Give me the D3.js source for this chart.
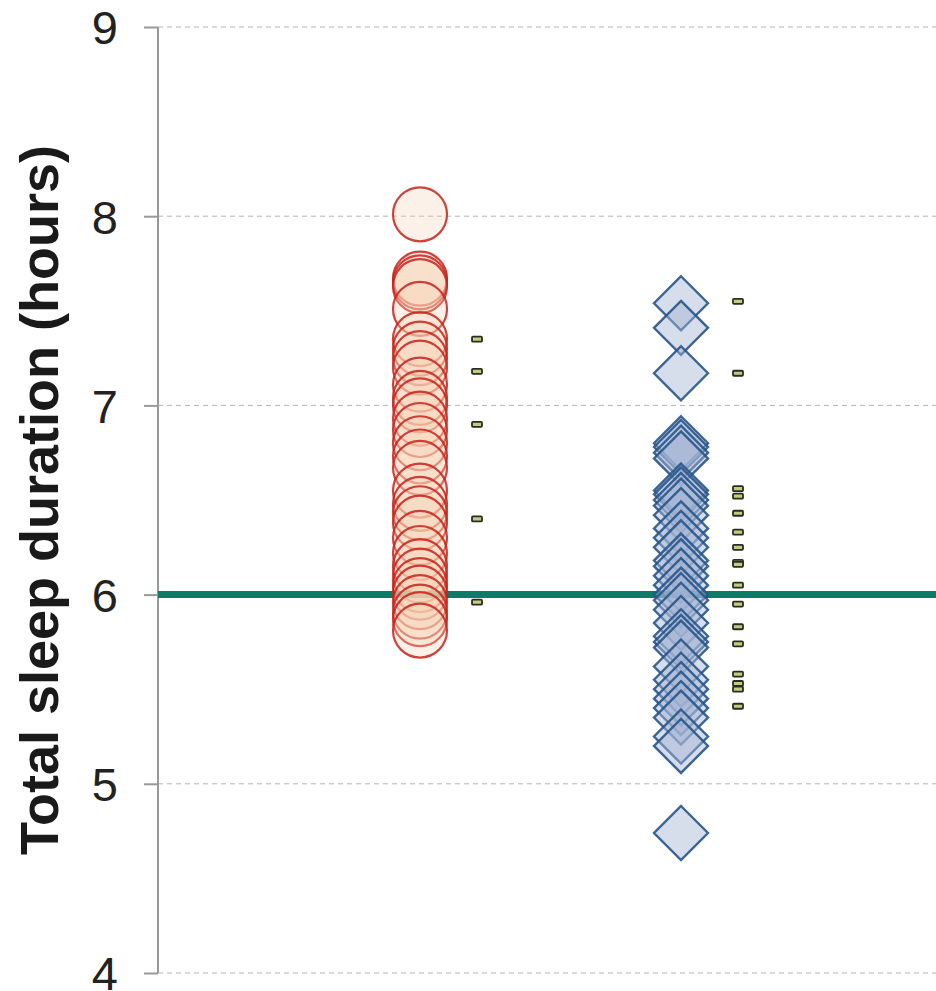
<!DOCTYPE html>
<html>
<head>
<meta charset="utf-8">
<script src="https://cdn.jsdelivr.net/npm/d3@7"></script>
<style>
  body { margin: 0; background: #fff; }
  svg { display: block; font-family: "Liberation Sans", Arial, sans-serif; }
</style>
</head>
<body>
<div id="chart"></div>
<script>
// y ticks
const yTicks = [4, 5, 6, 7, 8, 9];
const threshold = 6;

// group 1 (circles) – individual sleep durations
const groupA = [8.01, 7.67, 7.65, 7.63, 7.51, 7.35, 7.30, 7.25, 7.20, 7.11, 7.04, 7.00,
  6.93, 6.87, 6.80, 6.73, 6.67, 6.55, 6.48, 6.43, 6.38, 6.30, 6.22, 6.15, 6.10,
  6.05, 6.01, 5.96, 5.91, 5.87, 5.81];
// small marks next to group 1
const marksA = [7.35, 7.18, 6.90, 6.40, 5.96];

// group 2 (diamonds)
const groupB = [7.54, 7.41, 7.17, 6.80, 6.78, 6.75, 6.72, 6.55, 6.53, 6.50, 6.47, 6.42,
  6.35, 6.30, 6.25, 6.18, 6.15, 6.10, 6.05, 6.00, 5.97, 5.92, 5.85, 5.78, 5.75,
  5.72, 5.62, 5.55, 5.50, 5.45, 5.40, 5.35, 5.25, 5.20, 4.74];
const marksB = [7.55, 7.17, 6.56, 6.52, 6.43, 6.33, 6.25, 6.17, 6.16, 6.05, 5.95, 5.83,
  5.74, 5.58, 5.53, 5.50, 5.41];

const width = 936, height = 991;
const margin = { top: 27, right: 0, bottom: 18, left: 158 };

const svg = d3.select("#chart").append("svg")
  .attr("width", width)
  .attr("height", height);

const y = d3.scaleLinear()
  .domain([4, 9])
  .range([height - margin.bottom, margin.top]);

// x positions of the two columns and their side marks
const xPos = { A: 420, markA: 477, B: 681, markB: 738 };

// gridlines
svg.append("g")
  .selectAll("line")
  .data(yTicks)
  .join("line")
    .attr("x1", margin.left)
    .attr("x2", width)
    .attr("y1", d => y(d))
    .attr("y2", d => y(d))
    .attr("stroke", "#b5b5b5")
    .attr("stroke-width", 1)
    .attr("stroke-dasharray", "5,4");

// axis
const axis = svg.append("g")
  .attr("transform", `translate(${margin.left},0)`)
  .call(d3.axisLeft(y).tickValues(yTicks).tickSize(14).tickPadding(26).tickFormat(d3.format("d")));
axis.select(".domain")
  .attr("stroke", "#999")
  .attr("stroke-width", 2)
  .attr("d", `M0,${y(4)}V${y(9)}`);
axis.selectAll(".tick line").attr("stroke", "#999").attr("stroke-width", 2);
axis.selectAll(".tick text")
  .attr("font-size", 47)
  .attr("fill", "#222")
  .attr("font-family", "'Liberation Sans', Arial, sans-serif")
  .attr("dy", "0.36em");

// y label
svg.append("text")
  .attr("transform", `translate(58,${(y(4) + y(9)) / 2}) rotate(-90)`)
  .attr("text-anchor", "middle")
  .attr("font-size", 54)
  .attr("font-weight", "bold")
  .attr("fill", "#1a1a1a")
  .text("Total sleep duration (hours)");

// threshold line
svg.append("line")
  .attr("x1", margin.left)
  .attr("x2", width)
  .attr("y1", y(threshold))
  .attr("y2", y(threshold))
  .attr("stroke", "#0a7d69")
  .attr("stroke-width", 7);

// circles
svg.append("g")
  .selectAll("circle")
  .data(groupA)
  .join("circle")
    .attr("cx", xPos.A)
    .attr("cy", d => y(d))
    .attr("r", 27)
    .attr("fill", "#f4cfb4")
    .attr("fill-opacity", 0.3)
    .attr("stroke", "#c8221a")
    .attr("stroke-opacity", 0.85)
    .attr("stroke-width", 2.2);

// diamonds
const dh = 27;
svg.append("g")
  .selectAll("path")
  .data(groupB)
  .join("path")
    .attr("d", d => `M${xPos.B},${y(d) - dh}L${xPos.B + dh},${y(d)}L${xPos.B},${y(d) + dh}L${xPos.B - dh},${y(d)}Z`)
    .attr("fill", "#a3b4d3")
    .attr("fill-opacity", 0.45)
    .attr("stroke", "#27558a")
    .attr("stroke-opacity", 0.9)
    .attr("stroke-width", 2.4);

// small marks
function drawMarks(vals, cx) {
  svg.append("g")
    .selectAll("rect")
    .data(vals)
    .join("rect")
      .attr("x", cx - 5)
      .attr("y", d => y(d) - 2.5)
      .attr("width", 10)
      .attr("height", 5)
      .attr("rx", 1)
      .attr("fill", "#c3cc7c")
      .attr("stroke", "#2a2d22")
      .attr("stroke-width", 1.8);
}
drawMarks(marksA, xPos.markA);
drawMarks(marksB, xPos.markB);
</script>
</body>
</html>
